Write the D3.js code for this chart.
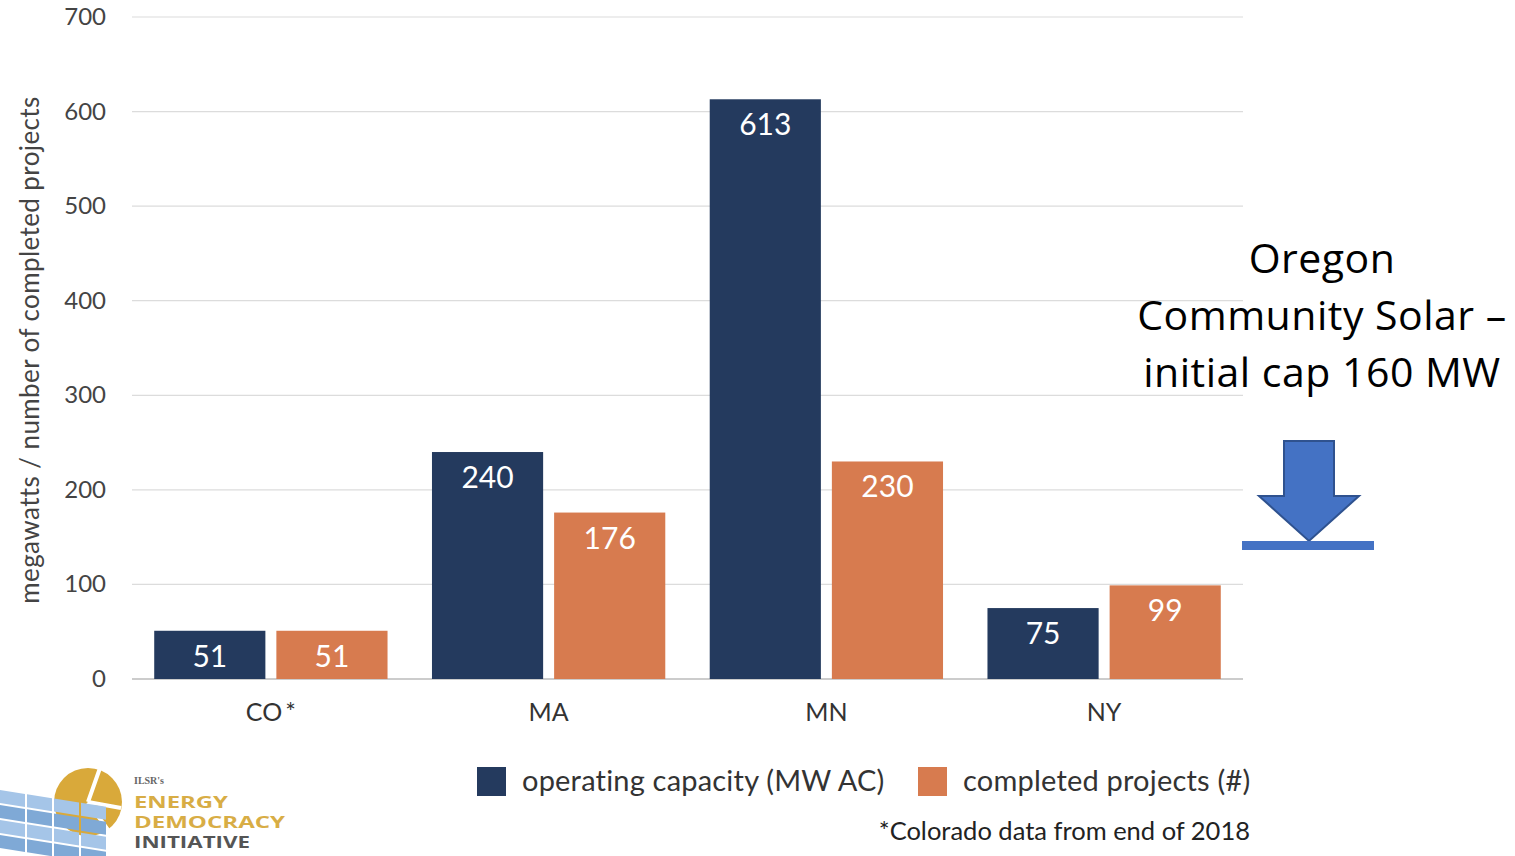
<!DOCTYPE html>
<html>
<head>
<meta charset="utf-8">
<script src="https://cdn.jsdelivr.net/npm/d3@7"></script>
<style>
  body { margin: 0; background: #fff; }
  svg { display: block; }
</style>
</head>
<body>
<div id="chart"></div>
<script>
// DATA ////////////////////////////////////////////////////////////////////////
const states = ["CO*", "MA", "MN", "NY"];
const capacity = [51, 240, 613, 75];      // operating capacity (MW AC)
const projects = [51, 176, 230, 99];      // completed projects (#)
const seriesNames = ["operating capacity (MW AC)", "completed projects (#)"];
const yTicks = [0, 100, 200, 300, 400, 500, 600, 700];
const noteLines = ["Oregon", "Community Solar \u2013", "initial cap 160 MW"];

// LAYOUT //////////////////////////////////////////////////////////////////////
const W = 1515, H = 856;
const colors = ["#243a5e", "#d77b4f"];
const font = "Lato, 'Open Sans', sans-serif";

const svg = d3.select("#chart").append("svg")
  .attr("width", W).attr("height", H);

const x = d3.scaleBand().domain(states).range([132, 1243]).paddingInner(0.16).paddingOuter(0.08);
const x1 = d3.scaleBand().domain([0, 1]).range([0, x.bandwidth()]).paddingInner(0.09);
const y = d3.scaleLinear().domain([0, 700]).range([679, 17]);

// gridlines
svg.append("g").selectAll("line")
  .data(yTicks)
  .enter().append("line")
  .attr("x1", 132).attr("x2", 1243)
  .attr("y1", d => y(d)).attr("y2", d => y(d))
  .attr("stroke", d => d === 0 ? "#bbb" : "#dcdcdc")
  .attr("stroke-width", d => d === 0 ? 1.6 : 1.2);

// y tick labels
svg.append("g").selectAll("text")
  .data(yTicks)
  .enter().append("text")
  .attr("x", 106).attr("y", d => y(d) + 8)
  .attr("text-anchor", "end")
  .attr("font-family", font).attr("font-size", 24)
  .attr("fill", "#444")
  .text(d => d);

// y axis title
svg.append("text")
  .attr("transform", "translate(39," + 350 + ") rotate(-90)")
  .attr("text-anchor", "middle")
  .attr("font-family", font).attr("font-size", 26)
  .attr("letter-spacing", 0.4)
  .attr("fill", "#444")
  .text("megawatts / number of completed projects");

// bars
const rows = states.map((s, i) => ({ state: s, vals: [capacity[i], projects[i]] }));
const groups = svg.append("g").selectAll("g")
  .data(rows)
  .enter().append("g")
  .attr("transform", d => "translate(" + x(d.state) + ",0)");

groups.selectAll("rect")
  .data(d => d.vals.map((v, k) => ({ v, k })))
  .enter().append("rect")
  .attr("x", d => x1(d.k))
  .attr("width", x1.bandwidth())
  .attr("y", d => y(d.v))
  .attr("height", d => y(0) - y(d.v))
  .attr("fill", d => colors[d.k]);

groups.selectAll("text")
  .data(d => d.vals.map((v, k) => ({ v, k })))
  .enter().append("text")
  .attr("x", d => x1(d.k) + x1.bandwidth() / 2)
  .attr("y", d => y(d.v) + 36)
  .attr("text-anchor", "middle")
  .attr("font-family", font).attr("font-size", 30)
  .attr("fill", "#fff")
  .text(d => d.v);

// category labels
svg.append("g").selectAll("text")
  .data(states)
  .enter().append("text")
  .attr("x", d => x(d) + x.bandwidth() / 2)
  .attr("y", 721)
  .attr("text-anchor", "middle")
  .attr("font-family", font).attr("font-size", 25)
  .attr("fill", "#333")
  .text(d => d.replace("*", "\u2009*"));

// legend
const legend = svg.append("g").selectAll("g")
  .data(seriesNames)
  .enter().append("g")
  .attr("transform", (d, i) => "translate(" + (i === 0 ? 477 : 918) + ",767)");
legend.append("rect")
  .attr("width", 29).attr("height", 29)
  .attr("fill", (d, i) => colors[i]);
legend.append("text")
  .attr("x", 45).attr("y", 24)
  .attr("font-family", font).attr("font-size", 29)
  .attr("letter-spacing", 0.2)
  .attr("fill", "#333")
  .text(d => d);

// footnote
svg.append("text")
  .attr("x", 1250).attr("y", 840)
  .attr("text-anchor", "end")
  .attr("font-family", font).attr("font-size", 25.5)
  .attr("fill", "#222")
  .text("*Colorado data from end of 2018");

// Oregon annotation
svg.append("g").selectAll("text")
  .data(noteLines)
  .enter().append("text")
  .attr("x", 1322).attr("y", (d, i) => 273 + i * 57)
  .attr("text-anchor", "middle")
  .attr("font-family", "'Open Sans', sans-serif").attr("font-size", 41)
  .attr("letter-spacing", 0.5)
  .attr("fill", "#000")
  .text(d => d);

// arrow pointing to the cap line
const arrow = svg.append("g");
arrow.append("path")
  .attr("d", "M1284,441 L1334,441 L1334,496 L1359,496 L1309,541 L1259,496 L1284,496 Z")
  .attr("fill", "#4472c4").attr("stroke", "#2f528f").attr("stroke-width", 2);
arrow.append("rect")
  .attr("x", 1242).attr("y", 541).attr("width", 132).attr("height", 9)
  .attr("fill", "#4472c4");

// ILSR logo (simplified)
const logo = svg.append("g");
logo.append("circle").attr("cx", 88).attr("cy", 802).attr("r", 34).attr("fill", "#d9a93a");
logo.append("path")
  .attr("d", "M88,802 L100,768 M88,802 L121,808 M88,802 L108,830")
  .attr("stroke", "#fff").attr("stroke-width", 4);
const panel = logo.append("g").attr("transform", "translate(0,790) skewY(9)");
for (let r = 0; r < 4; r++) {
  for (let c = 0; c < 4; c++) {
    panel.append("rect")
      .attr("x", c * 27).attr("y", r * 15)
      .attr("width", 25).attr("height", 13)
      .attr("fill", r % 2 ? "#7fa9d6" : "#a5c5e8");
  }
}
logo.append("text").attr("x", 134).attr("y", 784)
  .attr("font-family", "'Liberation Serif', serif").attr("font-size", 10).attr("font-weight", "bold")
  .attr("fill", "#666").text("ILSR's");
logo.selectAll("text.w")
  .data([["ENERGY", "#d8ad45", 94], ["DEMOCRACY", "#d8ad45", 151], ["INITIATIVE", "#555", 116]])
  .enter().append("text")
  .attr("class", "w")
  .attr("x", 134).attr("y", (d, i) => 808 + i * 20)
  .attr("font-family", "'Open Sans', sans-serif").attr("font-size", 16).attr("font-weight", "bold")
  .attr("textLength", d => d[2]).attr("lengthAdjust", "spacingAndGlyphs")
  .attr("fill", d => d[1])
  .text(d => d[0]);
</script>
</body>
</html>
